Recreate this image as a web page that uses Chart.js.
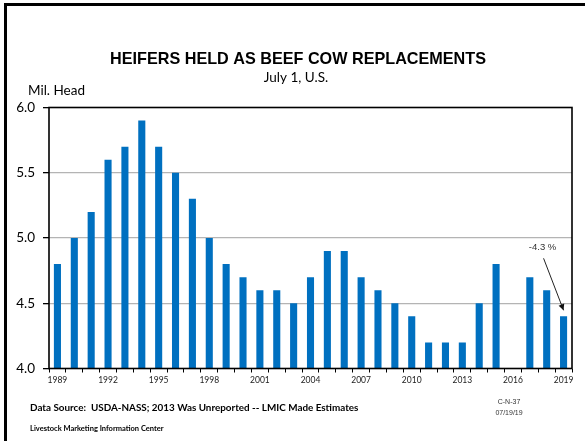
<!DOCTYPE html>
<html>
<head>
<meta charset="utf-8">
<script src="https://cdn.jsdelivr.net/npm/chart.js@4/dist/chart.umd.min.js"></script>
<style>
html,body{margin:0;padding:0;background:#fff;}
#wrap{position:relative;width:585px;height:441px;}
</style>
</head>
<body>
<div id="wrap"><canvas id="c" width="585" height="441"></canvas></div>
<script>
const years = ['1989','1990','1991','1992','1993','1994','1995','1996','1997','1998','1999','2000','2001','2002','2003','2004','2005','2006','2007','2008','2009','2010','2011','2012','2013','2014','2015','2016','2017','2018','2019'];
const heifers = [4.8,5.0,5.2,5.6,5.7,5.9,5.7,5.5,5.3,5.0,4.8,4.7,4.6,4.6,4.5,4.7,4.9,4.9,4.7,4.6,4.5,4.4,4.2,4.2,4.2,4.5,4.8,null,4.7,4.6,4.4];
const yTicks = [4.0,4.5,5.0,5.5,6.0];
const titleText = 'HEIFERS HELD AS BEEF COW REPLACEMENTS';
const subtitleText = 'July 1, U.S.';
const yUnit = 'Mil. Head';
const sourceText = 'Data Source:  USDA-NASS; 2013 Was Unreported -- LMIC Made Estimates';
const orgText = 'Livestock Marketing Information Center';
const codeText = 'C-N-37';
const dateText = '07/19/19';
const noteText = '-4.3 %';
const noteIndex = 30;

const decor = {
  id: 'decor',
  afterDraw(chart) {
    const ctx = chart.ctx, a = chart.chartArea;
    const x = chart.scales.x, y = chart.scales.y;
    ctx.save();
    // page frame
    ctx.fillStyle = '#000';
    ctx.fillRect(4, 3, 3, 438);
    ctx.fillRect(4, 3, 581, 3);
    // plot border
    ctx.strokeStyle = '#000';
    ctx.lineWidth = 1.6;
    ctx.strokeRect(a.left, a.top, a.right - a.left, a.bottom - a.top);
    // titles
    ctx.textAlign = 'center';
    ctx.textBaseline = 'middle';
    ctx.fillStyle = '#000';
    ctx.font = 'bold 16.2px "Liberation Sans", Arial, sans-serif';
    ctx.fillText(titleText, 298, 60);
    ctx.font = '13.5px Lato, sans-serif';
    ctx.fillText(subtitleText, 296, 78);
    ctx.textAlign = 'left';
    ctx.font = '13.5px Lato, sans-serif';
    ctx.fillText(yUnit, 28, 91);
    // footer
    ctx.font = 'bold 9.9px Lato, sans-serif';
    ctx.fillText(sourceText, 30, 408);
    ctx.font = 'bold 7.5px Lato, sans-serif';
    ctx.fillText(orgText, 30, 429);
    ctx.textAlign = 'center';
    ctx.fillStyle = '#333';
    ctx.font = '7px "Liberation Sans", Arial, sans-serif';
    ctx.fillText(codeText, 509, 402);
    ctx.fillText(dateText, 509, 413);
    // annotation
    const bx = x.getPixelForValue(noteIndex);
    const by = y.getPixelForValue(heifers[noteIndex]);
    const tipX = bx, tipY = by - 6;
    const sx = bx - 20, sy = by - 58;
    ctx.font = '9.5px "Liberation Sans", Arial, sans-serif';
    ctx.fillStyle = '#333';
    ctx.fillText(noteText, sx - 1, sy - 11);
    ctx.strokeStyle = '#222';
    ctx.lineWidth = 1;
    ctx.beginPath();
    ctx.moveTo(sx, sy);
    ctx.lineTo(tipX, tipY);
    ctx.stroke();
    const ang = Math.atan2(tipY - sy, tipX - sx);
    ctx.fillStyle = '#111';
    ctx.beginPath();
    ctx.moveTo(tipX, tipY);
    ctx.lineTo(tipX - 6 * Math.cos(ang) + 3 * Math.sin(ang), tipY - 6 * Math.sin(ang) - 3 * Math.cos(ang));
    ctx.lineTo(tipX - 6 * Math.cos(ang) - 3 * Math.sin(ang), tipY - 6 * Math.sin(ang) + 3 * Math.cos(ang));
    ctx.closePath();
    ctx.fill();
    ctx.restore();
  }
};

new Chart(document.getElementById('c'), {
  type: 'bar',
  data: {
    labels: years,
    datasets: [{
      data: heifers,
      backgroundColor: '#0070C0',
      borderWidth: 0,
      barPercentage: 0.42,
      categoryPercentage: 1.0
    }]
  },
  options: {
    responsive: false,
    animation: false,
    layout: { padding: { left: 0, top: 107.5, right: 13, bottom: 0 } },
    plugins: { legend: { display: false }, tooltip: { enabled: false }, title: { display: false } },
    scales: {
      x: {
        afterFit(s) { s.height = 72.5; },
        border: { display: false },
        grid: { drawOnChartArea: false, drawTicks: true, tickLength: 4, tickColor: '#000', offset: true },
        ticks: {
          autoSkip: false, maxRotation: 0, minRotation: 0, padding: 3,
          color: '#222',
          font: { family: 'Lato, sans-serif', size: 8.5 },
          callback: (v, i) => (i % 3 === 0 ? years[i] : '')
        }
      },
      y: {
        min: 4, max: 6,
        afterFit(s) { s.width = 49; },
        afterBuildTicks(s) { s.ticks = yTicks.map(v => ({ value: v })); },
        border: { display: false },
        grid: {
          color: c => (c.tick && c.tick.value > 4 && c.tick.value < 6) ? '#b4b4b4' : 'rgba(0,0,0,0)',
          lineWidth: 1.3,
          tickLength: 6, tickColor: '#000', drawTicks: true
        },
        ticks: {
          padding: 8, color: '#000',
          font: { family: 'Lato, sans-serif', size: 13.5 },
          callback: v => Number(v).toFixed(1)
        }
      }
    }
  },
  plugins: [decor]
});
</script>
</body>
</html>
